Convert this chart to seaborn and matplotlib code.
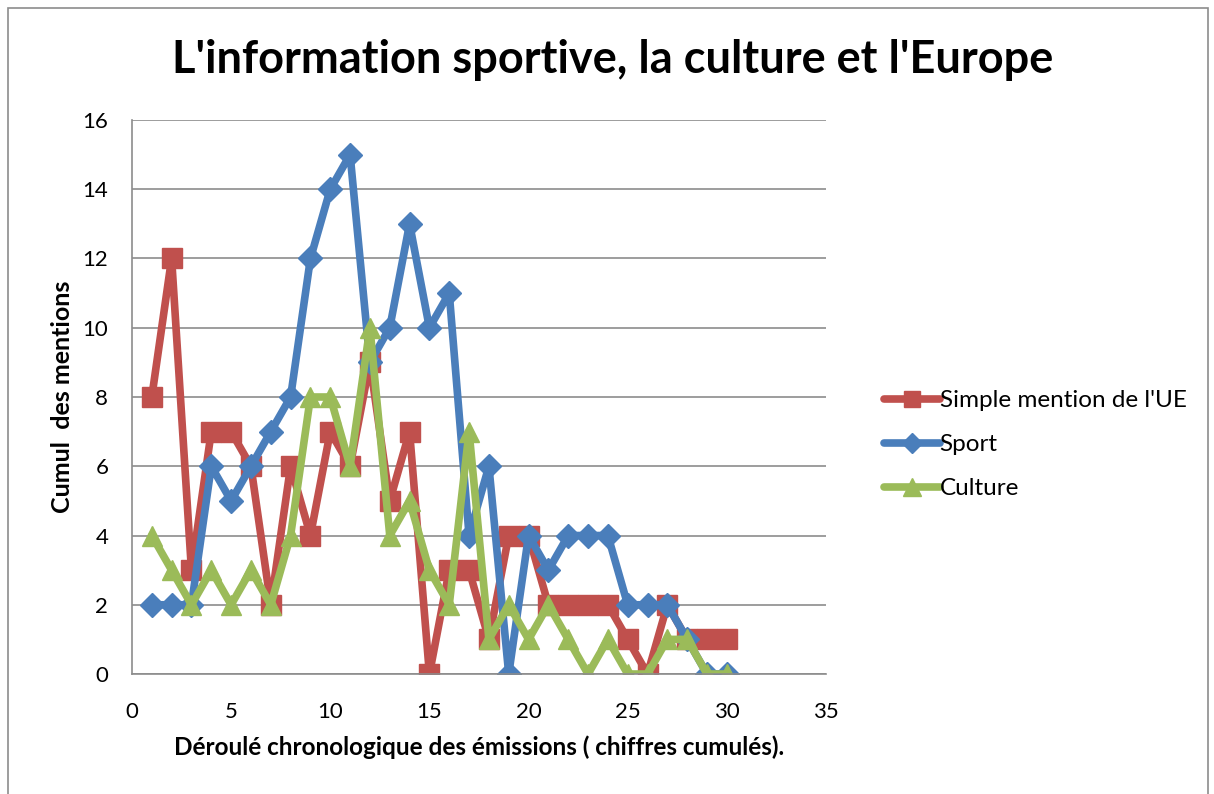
import matplotlib
matplotlib.use("Agg")
import matplotlib.pyplot as plt
import seaborn as sns
import pandas as pd
from matplotlib.patches import Rectangle
from matplotlib.lines import Line2D

# data
emissions = list(range(1, 31))
simple_mention = [8, 12, 3, 7, 7, 6, 2, 6, 4, 7, 6, 9, 5, 7, 0,
                  3, 3, 1, 4, 4, 2, 2, 2, 2, 1, 0, 2, 1, 1, 1]
sport = [2, 2, 2, 6, 5, 6, 7, 8, 12, 14, 15, 9, 10, 13, 10,
         11, 4, 6, 0, 4, 3, 4, 4, 4, 2, 2, 2, 1, 0, 0]
culture = [4, 3, 2, 3, 2, 3, 2, 4, 8, 8, 6, 10, 4, 5, 3,
           2, 7, 1, 2, 1, 2, 1, 0, 1, 0, 0, 1, 1, 0, 0]
series_names = ["Simple mention de l'UE", "Sport", "Culture"]

df = pd.concat([
    pd.DataFrame({"x": emissions, "y": simple_mention, "serie": series_names[0]}),
    pd.DataFrame({"x": emissions, "y": sport, "serie": series_names[1]}),
    pd.DataFrame({"x": emissions, "y": culture, "serie": series_names[2]}),
])

colors = {series_names[0]: "#C0504D", series_names[1]: "#4A7EBB", series_names[2]: "#9BBB59"}
markers = {series_names[0]: "s", series_names[1]: "D", series_names[2]: "^"}
msizes = {series_names[0]: 14, series_names[1]: 12, series_names[2]: 15}

sns.set_theme(style="white")
plt.rcParams["font.family"] = ["Lato", "DejaVu Sans"]
plt.rcParams["text.color"] = "black"
plt.rcParams["axes.labelcolor"] = "black"

fig = plt.figure(figsize=(12.14, 7.94), dpi=100)
ax = fig.add_axes([0.1087, 0.1511, 0.5717, 0.6978])

# one line per series, drawn in legend order
for name in series_names:
    sns.lineplot(data=df[df["serie"] == name], x="x", y="y", ax=ax,
                 color=colors[name], linewidth=5.5, marker=markers[name],
                 markersize=msizes[name], markeredgecolor=colors[name],
                 markeredgewidth=1, label=name)

ax.set_xlim(0, 35)
ax.set_ylim(0, 16)
ax.set_xticks(range(0, 36, 5))
ax.set_yticks(range(0, 17, 2))
ax.tick_params(axis="x", labelsize=16, colors="black", length=0, pad=20)
ax.tick_params(axis="y", labelsize=16, colors="black", length=0, pad=17)
ax.yaxis.grid(True, color="#8c8c8c", linewidth=1.2)
ax.xaxis.grid(False)
for side in ["top", "right"]:
    ax.spines[side].set_visible(False)
for side in ["left", "bottom"]:
    ax.spines[side].set_color("#8c8c8c")
    ax.spines[side].set_linewidth(1.2)

ax.set_xlabel("Déroulé chronologique des émissions ( chiffres cumulés).",
              fontsize=17.5, fontweight="bold", labelpad=10)
ax.set_ylabel("Cumul  des mentions", fontsize=18, fontweight="bold", labelpad=6)

fig.text(0.505, 0.925, "L'information sportive, la culture et l'Europe",
         ha="center", va="center", fontsize=32.5, fontweight="bold")

handles = [Line2D([], [], color=colors[n], linewidth=5.5, marker=markers[n],
                  markersize=msizes[n] - 2, markeredgecolor=colors[n])
           for n in series_names]
ax.legend(handles, series_names, loc="center left", bbox_to_anchor=(0.71, 0.44),
          bbox_transform=fig.transFigure, frameon=False, fontsize=17.5,
          handlelength=2.3, handletextpad=0.0, labelspacing=0.95)

fig.patches.append(Rectangle((0.007, -0.01), 0.988, 1.0, transform=fig.transFigure,
                             fill=False, edgecolor="#8c8c8c", linewidth=1.2))

fig.savefig("out.png", dpi=100)
